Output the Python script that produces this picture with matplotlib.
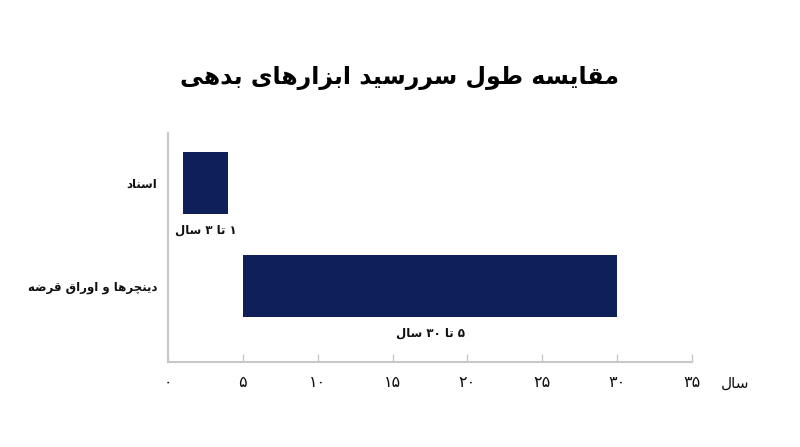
import matplotlib
matplotlib.use("Agg")
import matplotlib.pyplot as plt

# ---------- minimal Persian shaping (matplotlib does no Arabic shaping) ----------
FORMS = {
    '\u0627': ('\uFE8D', '\uFE8E', None, None),
    '\u0628': ('\uFE8F', '\uFE90', '\uFE91', '\uFE92'),
    '\u062A': ('\uFE95', '\uFE96', '\uFE97', '\uFE98'),
    '\u0686': ('\uFB7A', '\uFB7B', '\uFB7C', '\uFB7D'),
    '\u062F': ('\uFEA9', '\uFEAA', None, None),
    '\u0631': ('\uFEAD', '\uFEAE', None, None),
    '\u0632': ('\uFEAF', '\uFEB0', None, None),
    '\u0633': ('\uFEB1', '\uFEB2', '\uFEB3', '\uFEB4'),
    '\u0636': ('\uFEBD', '\uFEBE', '\uFEBF', '\uFEC0'),
    '\u0637': ('\uFEC1', '\uFEC2', '\uFEC3', '\uFEC4'),
    '\u0642': ('\uFED5', '\uFED6', '\uFED7', '\uFED8'),
    '\u0644': ('\uFEDD', '\uFEDE', '\uFEDF', '\uFEE0'),
    '\u0645': ('\uFEE1', '\uFEE2', '\uFEE3', '\uFEE4'),
    '\u0646': ('\uFEE5', '\uFEE6', '\uFEE7', '\uFEE8'),
    '\u0647': ('\uFEE9', '\uFEEA', '\uFEEB', '\uFEEC'),
    '\u0648': ('\uFEED', '\uFEEE', None, None),
    '\u06CC': ('\uFBFC', '\uFBFD', '\uFBFE', '\uFBFF'),
}

def _dual(c):
    return c in FORMS and FORMS[c][2] is not None

def fa(s):
    out = []
    n = len(s)
    for i, c in enumerate(s):
        if c not in FORMS:
            out.append(c)
            continue
        prev = s[i - 1] if i > 0 else ''
        nxt = s[i + 1] if i + 1 < n else ''
        jp = _dual(prev)
        jn = _dual(c) and nxt in FORMS
        iso, fin, ini, med = FORMS[c]
        if jp and jn:
            out.append(med)
        elif jp:
            out.append(fin)
        elif jn:
            out.append(ini)
        else:
            out.append(iso)
    # visual order: reverse, but keep digit runs left-to-right
    runs = []
    for ch in out:
        isdig = '\u06F0' <= ch <= '\u06F9' or ch.isdigit()
        if runs and isdig and runs[-1][0]:
            runs[-1][1].append(ch)
        else:
            runs.append([isdig, [ch]])
    return ''.join(''.join(r[1]) for r in reversed(runs))

# ---------------- data ----------------
title = "مقایسه طول سررسید ابزارهای بدهی"
categories = ["اسناد", "دینچرها و اوراق قرضه"]
starts = [1, 5]
ends = [4, 30]
bar_labels = ["۱ تا ۳ سال", "۵ تا ۳۰ سال"]
xticks = [0, 5, 10, 15, 20, 25, 30, 35]
xtick_labels = ["۰", "۵", "۱۰", "۱۵", "۲۰", "۲۵", "۳۰", "۳۵"]
x_unit = "سال"

plt.rcParams['font.family'] = ['DejaVu Sans']
fig = plt.figure(figsize=(8, 4.47), dpi=100)
ax = fig.add_axes([0.21, 0.19, 0.655, 0.512])

color = '#0f1f5a'
ypos = list(range(len(categories)))
widths = [e - s for s, e in zip(starts, ends)]
ax.barh(ypos, widths, left=starts, height=0.6, color=color)

for y, s, e, lab in zip(ypos, starts, ends, bar_labels):
    ax.text((s + e) / 2, y + 0.3 + 0.16, fa(lab), ha='center', va='center',
            fontsize=8.5, fontweight='bold', color='#111111')

ax.set_xlim(0, 35)
ax.set_ylim(1.74, -0.485)
ax.set_xticks(xticks)
ax.set_xticklabels(xtick_labels, fontsize=11.5, color='#111111')
ax.set_yticks(ypos)
ax.set_yticklabels([fa(c) for c in categories], fontsize=8.5, fontweight='bold', color='#111111')
ax.tick_params(axis='x', direction='in', length=6, width=1, color='#c8c8c8', pad=9)
ax.tick_params(axis='y', length=0, pad=8)

for side in ['top', 'right']:
    ax.spines[side].set_visible(False)
for side in ['left', 'bottom']:
    ax.spines[side].set_color('#c8c8c8')
    ax.spines[side].set_linewidth(1.5)

fig.text(0.919, 0.143, fa(x_unit), ha='center', va='center', fontsize=11, color='#111111')
fig.text(0.5, 0.825, fa(title), ha='center', va='center', fontsize=17, fontweight='bold', color='#000000')

fig.savefig('out.png', dpi=100)
